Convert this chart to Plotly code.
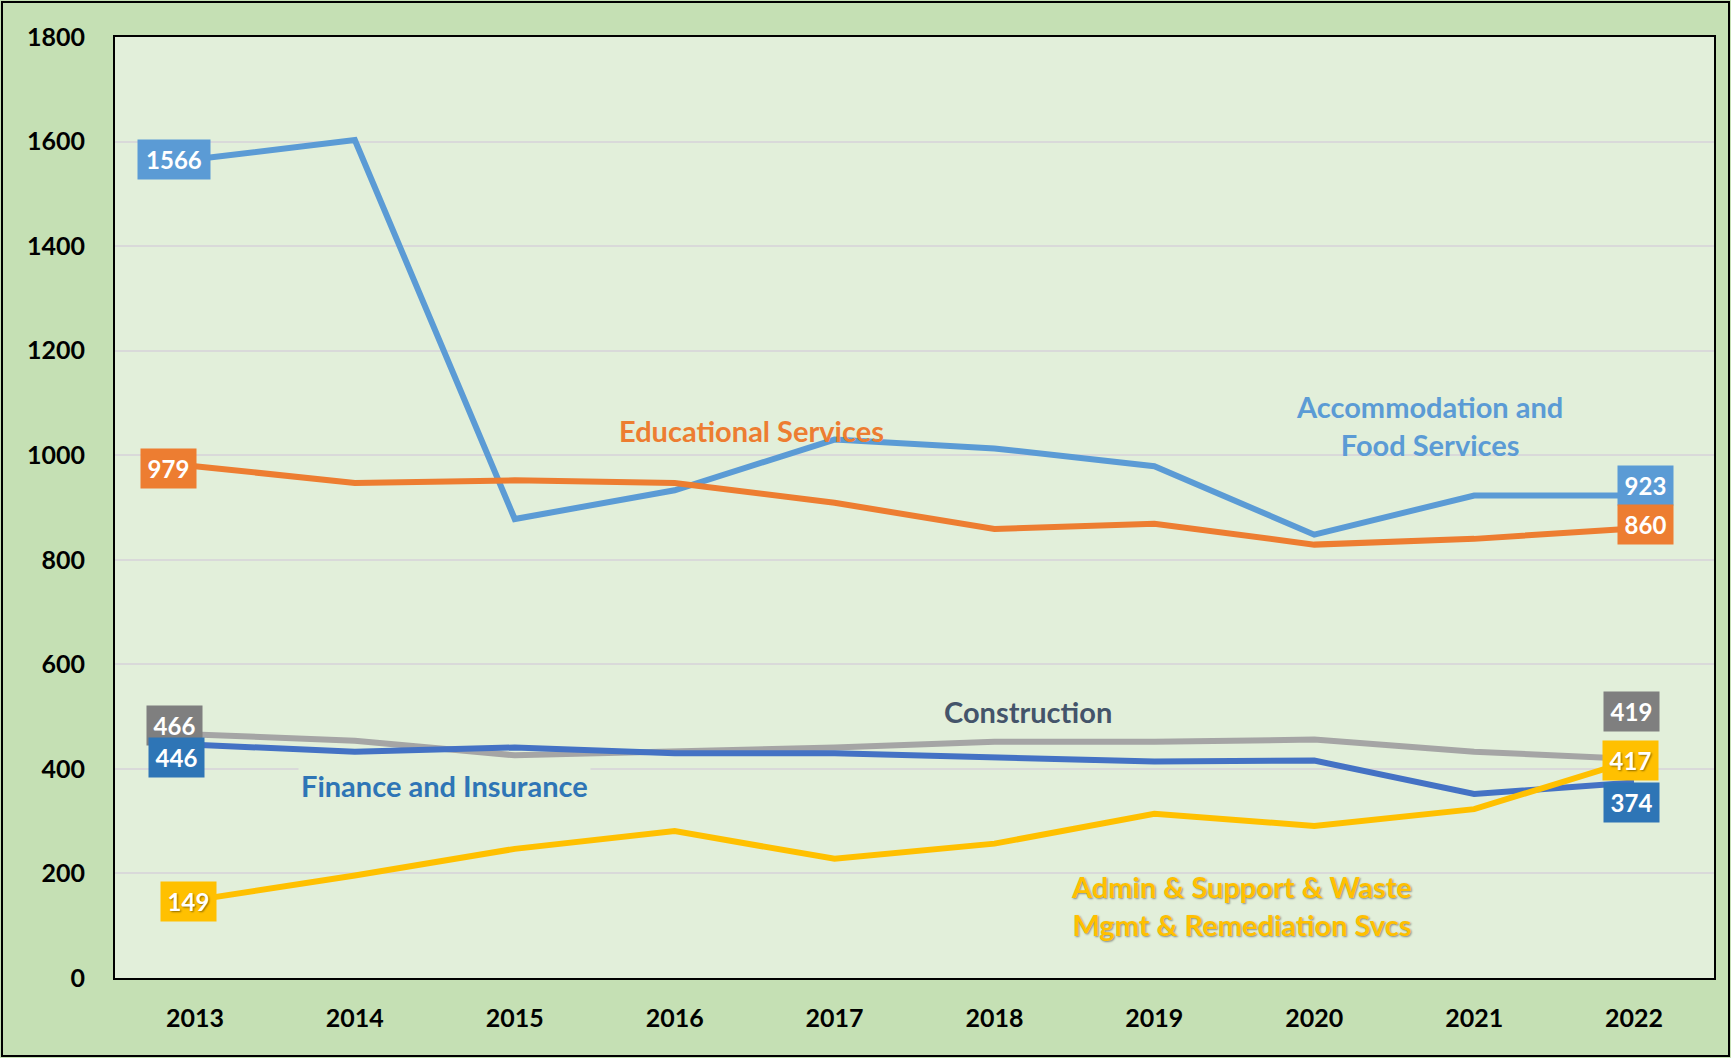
import plotly.graph_objects as go

years = [2013, 2014, 2015, 2016, 2017, 2018, 2019, 2020, 2021, 2022]
accommodation = [1566, 1603, 878, 933, 1030, 1013, 979, 848, 923, 923]
educational = [979, 947, 952, 947, 909, 859, 869, 829, 840, 860]
construction = [466, 454, 426, 433, 441, 452, 452, 456, 433, 419]
finance = [446, 433, 441, 430, 430, 422, 414, 416, 352, 374]
admin = [149, 196, 247, 281, 228, 257, 314, 291, 323, 417]
y_ticks = [0, 200, 400, 600, 800, 1000, 1200, 1400, 1600, 1800]

FONT = "Lato"
W, H = 1731, 1058
ML, MR, MT, MB = 115, 17, 37, 80
PW, PH = W - ML - MR, H - MT - MB

fig = go.Figure()
series = [
    ("Accommodation and Food Services", accommodation, "#5B9BD5"),
    ("Educational Services", educational, "#ED7D31"),
    ("Construction", construction, "#A5A5A5"),
    ("Finance and Insurance", finance, "#4472C4"),
    ("Admin & Support & Waste Mgmt & Remediation Svcs", admin, "#FFC000"),
]
for name, vals, col in series:
    fig.add_trace(go.Scatter(x=years, y=vals, mode="lines", name=name,
                             line=dict(color=col, width=6), showlegend=False,
                             hoverinfo="skip"))

def box(x, y, color, xs, ys, shadow=False):
    txt = str(y)
    fig.add_annotation(x=x, y=y, text=f"<b>{txt}</b>", showarrow=False,
                       xshift=xs, yshift=ys, bgcolor=color, borderpad=4,
                       width=64 if len(txt) == 4 else 47, height=31,
                       font=dict(family=FONT, size=24, color="white",
                                 shadow="1px 1px 2px rgba(0,0,0,0.45)" if shadow else "none"))

box(years[0], accommodation[0], "#5B9BD5", -21, 0)
box(years[0], educational[0], "#ED7D31", -26, -2)
box(years[0], construction[0], "#7F7F7F", -20, 9)
box(years[0], finance[0], "#2E75B6", -18, -13)
box(years[0], admin[0], "#FFC000", -6, -1, shadow=True)
box(years[-1], accommodation[-1], "#5B9BD5", 11, 10)
box(years[-1], educational[-1], "#ED7D31", 11, 4)
box(years[-1], construction[-1], "#7F7F7F", -3, 47)
box(years[-1], admin[-1], "#FFC000", -4, 0, shadow=True)
box(years[-1], finance[-1], "#2E75B6", -3, -20)

def name_label(x, y, text, color, bg=None, shadow=False):
    fig.add_annotation(x=x, y=y, text=f"<b>{text}</b>", showarrow=False,
                       bgcolor=bg if bg else "rgba(0,0,0,0)", borderpad=2,
                       font=dict(family=FONT, size=29, color=color,
                                 shadow="1px 1px 2px rgba(0,0,0,0.4)" if shadow else "none"),
                       align="center")

name_label(2016.48, 1047, "Educational Services", "#ED7D31")
name_label(2020.72, 1057, "Accommodation and<br>Food Services", "#5B9BD5")
name_label(2018.21, 509, "Construction", "#44546A")
name_label(2014.56, 369, "Finance and Insurance", "#2E75B6", bg="#E2EFDA")
name_label(2019.545, 139, "Admin & Support & Waste<br>Mgmt & Remediation Svcs", "#FFC000", shadow=True)

# outer figure border
fig.add_shape(type="rect", xref="paper", yref="paper",
              x0=-(ML - 2) / PW, x1=1 + (MR - 2) / PW,
              y0=-(MB - 2) / PH, y1=1 + (MT - 2) / PH,
              line=dict(color="black", width=2), layer="below")

fig.update_layout(
    width=W, height=H,
    margin=dict(l=ML, r=MR, t=MT, b=MB),
    paper_bgcolor="#C5E0B4", plot_bgcolor="#E2EFDA",
    font=dict(family=FONT, color="black"),
    hovermode=False,
    xaxis=dict(range=[2012.5, 2022.5], tickvals=years,
               ticktext=[f"<b>{y}</b>" for y in years],
               tickfont=dict(size=25, family=FONT, color="black"),
               showgrid=False, zeroline=False, showline=True, mirror=True,
               linecolor="black", linewidth=2, ticks="", ticklabelstandoff=17),
    yaxis=dict(range=[0, 1800], tickvals=y_ticks,
               ticktext=[f"<b>{v}</b>" for v in y_ticks],
               tickfont=dict(size=25, family=FONT, color="black"),
               showgrid=True, gridcolor="#D9D9D9", gridwidth=2,
               zeroline=False, showline=True, mirror=True,
               linecolor="black", linewidth=2, ticks="", ticklabelstandoff=23),
)

fig.write_html("out.html", config={"displayModeBar": False},
               post_script="document.body.style.margin='0px';document.body.style.overflow='hidden';")
